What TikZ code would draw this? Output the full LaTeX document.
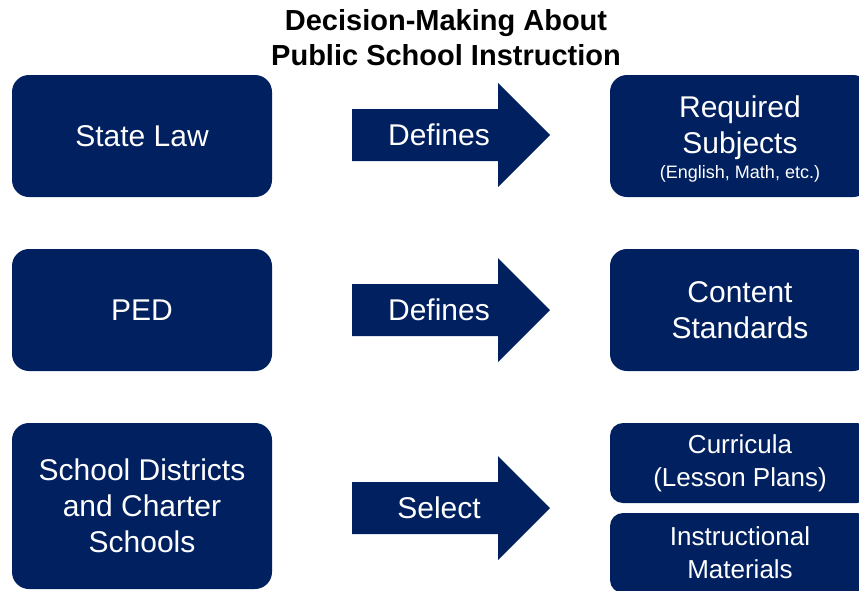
\documentclass[tikz,border=0pt]{standalone}
\usepackage{fontspec}
\setmainfont{Liberation Sans}
\usetikzlibrary{positioning}
\definecolor{navy}{HTML}{002060}

\begin{document}
\begin{tikzpicture}[x=1pt,y=-1pt,
  box/.style={fill=navy,rounded corners=17pt,text=white,align=center,inner sep=0pt,
    font=\fontsize{30}{36}\selectfont},
  smallbox/.style={box,rounded corners=13pt,font=\fontsize{26}{33}\selectfont},
  verb/.style={text=white,font=\fontsize{30}{36}\selectfont}]
\useasboundingbox (0,0) rectangle (859,590);
% title
\node[align=center,font=\fontsize{29}{35}\selectfont\bfseries] (title) at (446,38) {Decision-Making About\\Public School Instruction};
% who decides
\node[box,minimum width=260pt,minimum height=122pt] (law) at (142,136) {State Law};
\node[box,minimum width=260pt,minimum height=122pt] (ped) at (142,310) {PED};
\node[box,minimum width=260pt,minimum height=166pt] (district) at (142,506) {School Districts\\and Charter\\Schools};
% what is decided
\node[box,minimum width=260pt,minimum height=122pt] (subjects) at (740,136) {};
\node[verb,align=center] (subjectstext) at (740,139) {Required\\Subjects\\[-11pt]{\fontsize{18}{22}\selectfont(English, Math, etc.)}};
\node[box,minimum width=260pt,minimum height=122pt] (standards) at (740,310) {Content\\Standards};
\node[smallbox,minimum width=260pt,minimum height=80pt] (curricula) at (740,463) {Curricula\\(Lesson Plans)};
\node[smallbox,minimum width=260pt,minimum height=80pt] (materials) at (740,553) {Instructional\\Materials};
% block arrows
\fill[navy] (352,109) -- (498,109) -- (498,83) -- (550,135) -- (498,187) -- (498,161) -- (352,161) -- cycle;
\fill[navy] (352,284) -- (498,284) -- (498,258) -- (550,310) -- (498,362) -- (498,336) -- (352,336) -- cycle;
\fill[navy] (352,482) -- (498,482) -- (498,456) -- (550,508) -- (498,560) -- (498,534) -- (352,534) -- cycle;
\node[verb] (v1) at (439,135) {Defines};
\node[verb] (v2) at (439,310) {Defines};
\node[verb] (v3) at (439,508) {Select};
\end{tikzpicture}
\end{document}
